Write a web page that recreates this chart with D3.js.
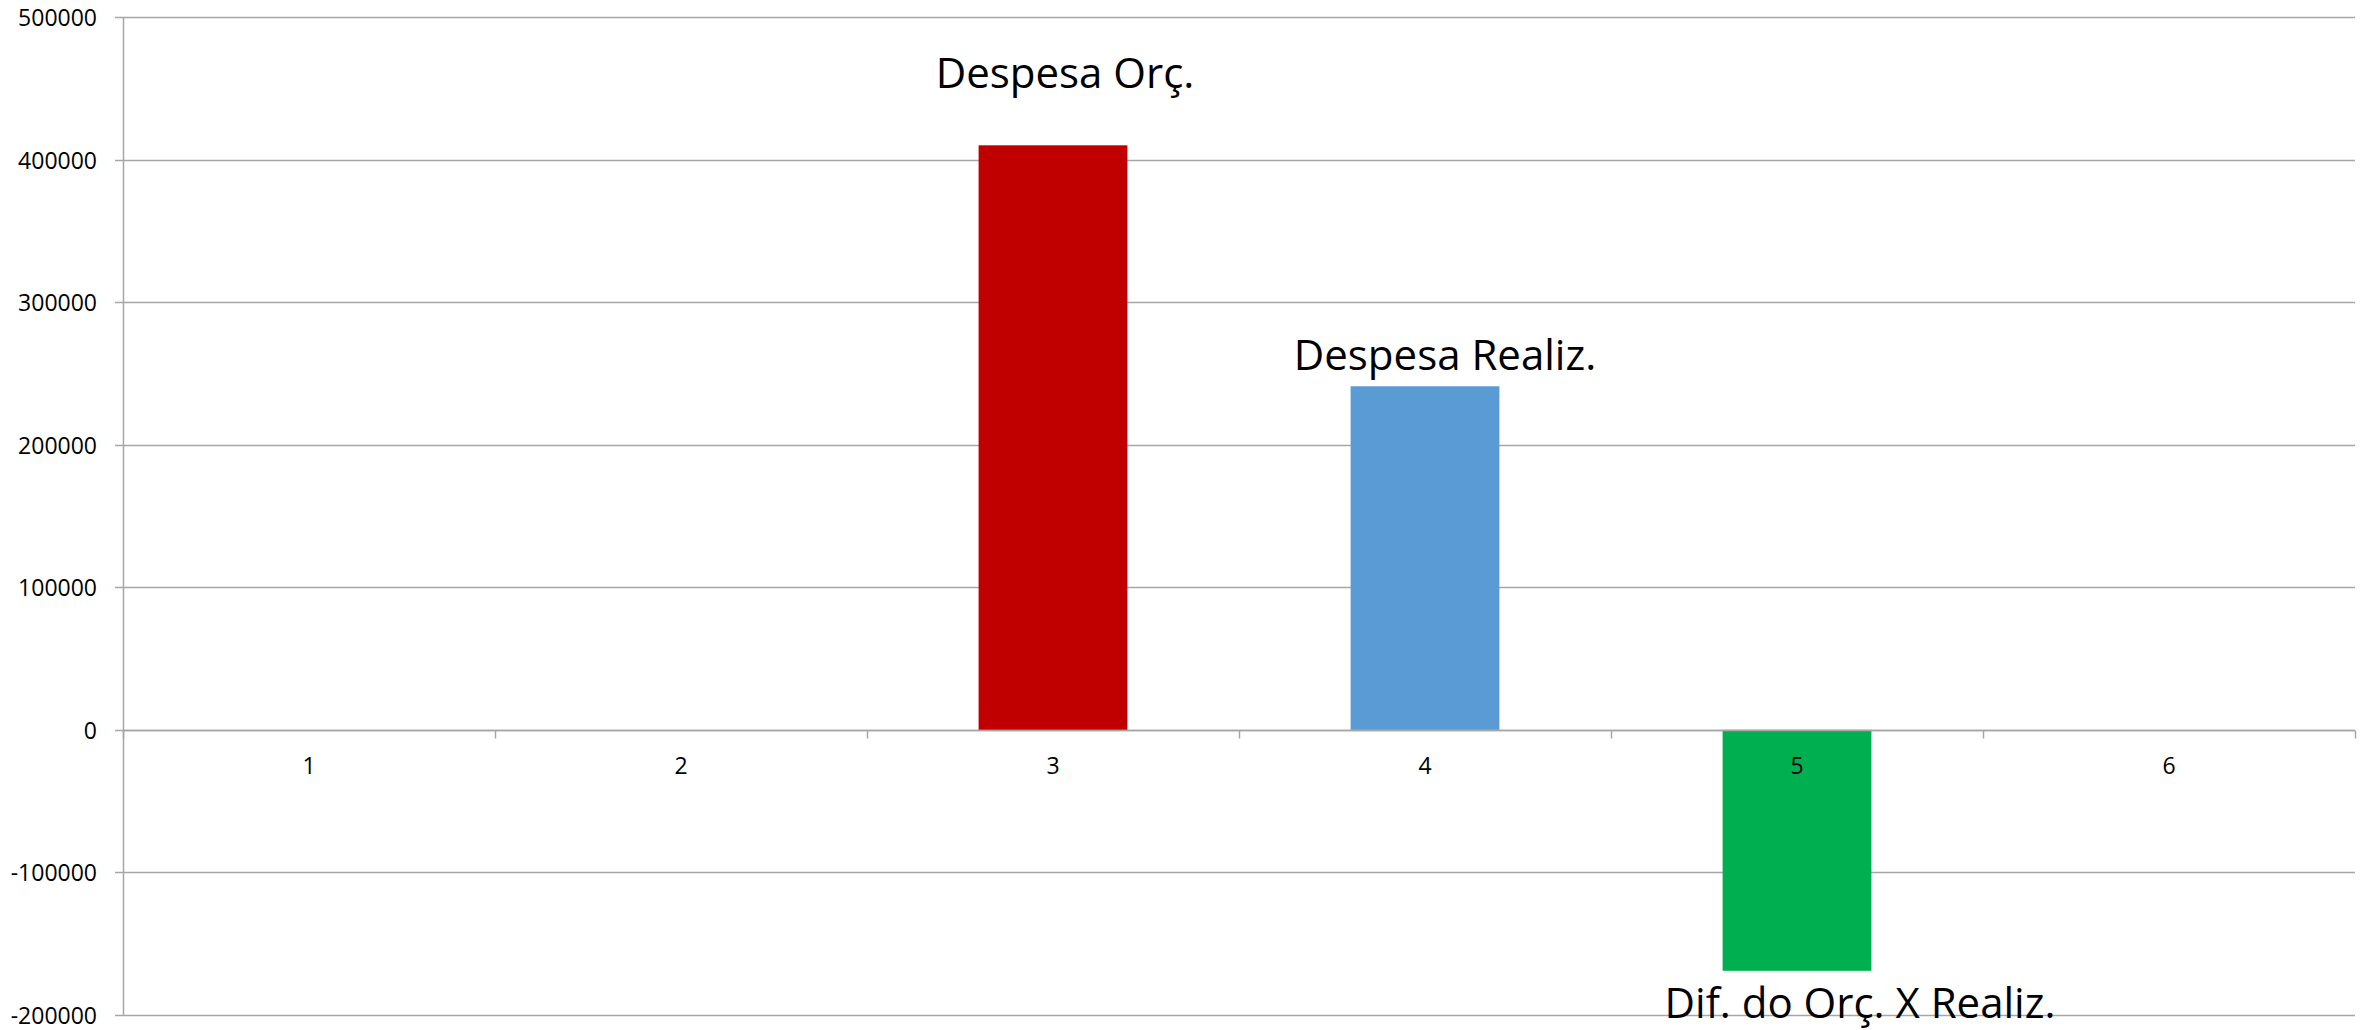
<!DOCTYPE html>
<html>
<head>
<meta charset="utf-8">
<script src="https://cdn.jsdelivr.net/npm/d3@7"></script>
<style>
  body { margin: 0; background: #fff; }
  svg { display: block; font-family: "Open Sans", sans-serif; }
</style>
</head>
<body>
<div id="chart"></div>
<script>
// categories on the x axis
const categories = ["1", "2", "3", "4", "5", "6"];

// bars (category -> value)
const barCategories = ["3", "4", "5"];
const barValues = [410000, 241000, -169000];
const barLabels = ["Despesa Orç.", "Despesa Realiz.", "Dif. do Orç. X Realiz."];
const barColors = ["#C00000", "#5B9BD5", "#00B050"];

// y ticks
const yTicks = [-200000, -100000, 0, 100000, 200000, 300000, 400000, 500000];

// label nudges (px) from the bar end, hand placed like in the original
const labelDx = [12, 20, 63];
const labelDy = [-57, -16, 47];

const width = 2369, height = 1030;
const margin = { top: 17, right: 14, bottom: 15, left: 123 };

const svg = d3.select("#chart")
  .append("svg")
  .attr("width", width)
  .attr("height", height);

const x = d3.scaleBand()
  .domain(categories)
  .range([margin.left, width - margin.right]);

const y = d3.scaleLinear()
  .domain([-200000, 500000])
  .range([height - margin.bottom, margin.top]);

const grid = "#a6a6a6";

// horizontal gridlines (with small tick stub left of the axis)
svg.append("g")
  .selectAll("line")
  .data(yTicks)
  .enter()
  .append("line")
  .attr("x1", margin.left - 8)
  .attr("x2", width - margin.right)
  .attr("y1", d => Math.round(y(d)) + 0.5)
  .attr("y2", d => Math.round(y(d)) + 0.5)
  .attr("stroke", grid)
  .attr("stroke-width", 1.5);

// y tick labels
svg.append("g")
  .selectAll("text")
  .data(yTicks)
  .enter()
  .append("text")
  .text(d => d)
  .attr("x", 97)
  .attr("y", d => y(d))
  .attr("text-anchor", "end")
  .attr("dominant-baseline", "central")
  .attr("font-size", 23)
  .attr("fill", "#000");

// vertical axis line
svg.append("line")
  .attr("x1", margin.left + 0.5)
  .attr("x2", margin.left + 0.5)
  .attr("y1", y(500000))
  .attr("y2", y(-200000))
  .attr("stroke", grid)
  .attr("stroke-width", 1.5);

// bars
const bw = x.bandwidth() * 0.4;
svg.append("g")
  .selectAll("rect")
  .data(barValues)
  .enter()
  .append("rect")
  .attr("x", (d, i) => x(barCategories[i]) + (x.bandwidth() - bw) / 2)
  .attr("width", bw)
  .attr("y", d => y(Math.max(0, d)))
  .attr("height", d => Math.abs(y(d) - y(0)))
  .attr("fill", (d, i) => barColors[i]);

// x axis at zero, drawn over the bars
const zeroY = Math.round(y(0)) + 0.5;
svg.append("line")
  .attr("x1", margin.left)
  .attr("x2", width - margin.right)
  .attr("y1", zeroY)
  .attr("y2", zeroY)
  .attr("stroke", grid)
  .attr("stroke-width", 1.5);

// x tick marks at band edges
const edges = categories.map(c => x(c)).concat([x.range()[1]]);
svg.append("g")
  .selectAll("line")
  .data(edges)
  .enter()
  .append("line")
  .attr("x1", d => Math.round(d) + 0.5)
  .attr("x2", d => Math.round(d) + 0.5)
  .attr("y1", zeroY)
  .attr("y2", zeroY + 8)
  .attr("stroke", grid)
  .attr("stroke-width", 1.5);

// x tick labels
svg.append("g")
  .selectAll("text")
  .data(categories)
  .enter()
  .append("text")
  .text(d => d)
  .attr("x", d => x(d) + x.bandwidth() / 2)
  .attr("y", zeroY + 34)
  .attr("text-anchor", "middle")
  .attr("dominant-baseline", "central")
  .attr("font-size", 23)
  .attr("fill", "#000");

// bar labels
svg.append("g")
  .selectAll("text")
  .data(barValues)
  .enter()
  .append("text")
  .text((d, i) => barLabels[i])
  .attr("x", (d, i) => x(barCategories[i]) + x.bandwidth() / 2 + labelDx[i])
  .attr("y", (d, i) => y(d) + labelDy[i])
  .attr("text-anchor", "middle")
  .attr("font-size", 42)
  .attr("fill", "#000");
</script>
</body>
</html>
